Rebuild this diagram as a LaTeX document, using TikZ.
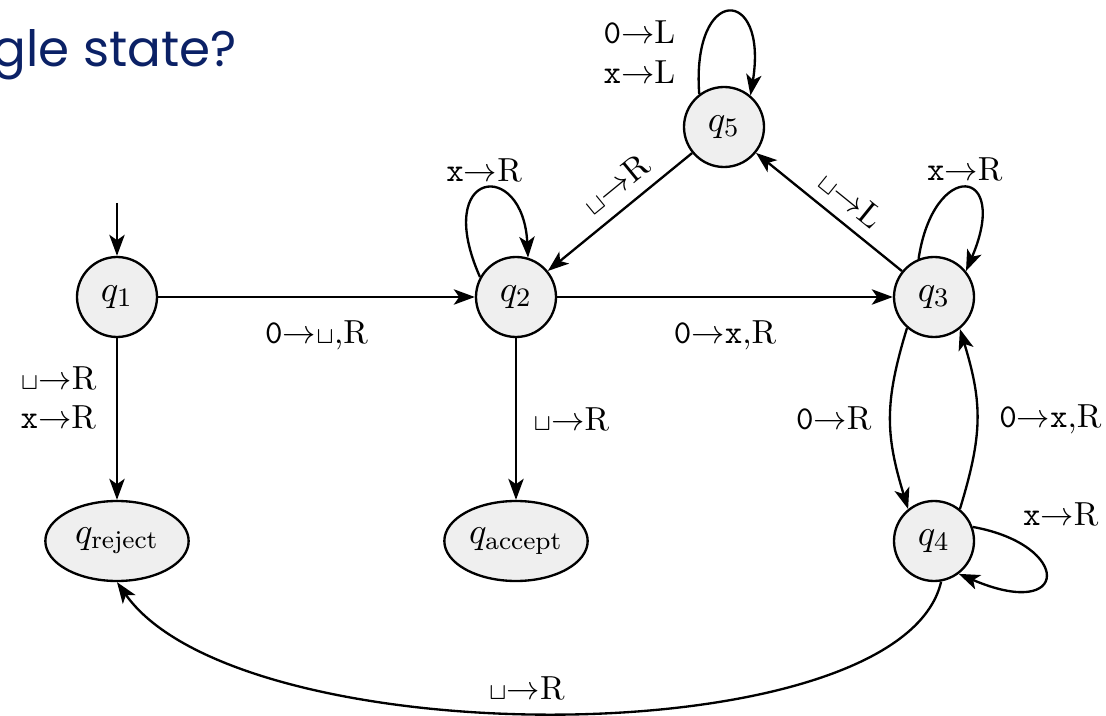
\documentclass[tikz,border=0pt]{standalone}
\usepackage{amsmath,amssymb}
\usepackage{fontspec}
\newfontfamily\titlefont{Poppins}
\usepackage{tikz}
\usetikzlibrary{arrows.meta,positioning,shapes.geometric}
\definecolor{statefill}{HTML}{EFEFEF}
\definecolor{titleblue}{HTML}{0B2166}
\newcommand{\blank}{\ensuremath{\scriptstyle\sqcup}}
\newcommand{\sym}[1]{\texttt{#1}}

\begin{document}
\begin{tikzpicture}[x=0.3pt, y=0.3pt, on grid, st/.style={circle,draw,line width=0.7pt,fill=statefill,minimum size=24pt,inner sep=0pt,font=\fontsize{11}{13}\selectfont}, hs/.style={ellipse,draw,line width=0.7pt,fill=statefill,minimum width=43pt,minimum height=24pt,inner sep=0pt,font=\fontsize{11}{13}\selectfont}, a/.style={-{Stealth[length=6.3pt,width=4.6pt,inset=1.6pt]},line width=0.7pt}]
\useasboundingbox (-117,297) rectangle (989,-418);
\node[font=\titlefont\fontsize{15}{18}\selectfont, text=titleblue, anchor=base west, inner sep=0pt] (title) at (-125,230) {gle state?};
% states
\node[st] (q1) at (0,0) {$q_1$};
\node[st,right=119.7pt of q1] (q2) {$q_2$};
\node[st,right=125.4pt of q2] (q3) {$q_3$};
\node[st,above right=51pt and 62.4pt of q2] (q5) {$q_5$};
\node[st,below=73.2pt of q3] (q4) {$q_4$};
\node[hs,below=73.2pt of q1] (qrej) {$q_{\mathrm{reject}}$};
\node[hs,below=73.2pt of q2] (qacc) {$q_{\mathrm{accept}}$};
\coordinate[above=28.2pt of q1] (start);
% transitions
\draw[a] (start) -- (q1);
\draw[a] (q1) -- node[below=3.4pt] {\sym{0}$\rightarrow$\blank,R} (q2);
\draw[a] (q2) -- node[below=3.4pt] {\sym{0}$\rightarrow$\sym{x},R} (q3);
\draw[a] (q1) -- node[left=2.5pt,pos=0.37,align=left] {\blank$\rightarrow$R\\\sym{x}$\rightarrow$R} (qrej);
\draw[a] (q2) -- node[right=1.5pt] {\blank$\rightarrow$R} (qacc);
\draw[a] (q5) -- node[sloped,above,pos=0.42] {\blank$\rightarrow$R} (q2);
\draw[a] (q3) -- node[sloped,above,pos=0.45] {\blank$\rightarrow$L} (q5);
\draw[a] (q3.-131) .. controls +(-107:78) and +(107:78) .. node[left=2pt] {\sym{0}$\rightarrow$R} (q4.129);
\draw[a] (q4.51) .. controls +(73:78) and +(-73:78) .. node[right=3pt] {\sym{0}$\rightarrow$\sym{x},R} (q3.-51);
\draw[a] (q4.-80) .. controls +(-40,-175) and +(123,-175) .. node[above,pos=0.53] {\blank$\rightarrow$R} (qrej.south);
% loops
\draw[a] (q2.151) .. controls +(-48,108) and +(-5,100) .. node[above=-1.5pt] {\sym{x}$\rightarrow$R} (q2.73);
\draw[a] (q3.112) .. controls +(15,100) and +(45,105) .. node[above=-1.5pt] {\sym{x}$\rightarrow$R} (q3.39);
\draw[a] (q5.127) .. controls +(-8,110) and +(18,110) .. node[left=4pt,pos=0.15,align=left] {\sym{0}$\rightarrow$L\\\sym{x}$\rightarrow$L} (q5.50);
\draw[a] (q4.20) .. controls +(100,-18) and +(112,-48) .. node[above right=0pt,pos=0.15] {\sym{x}$\rightarrow$R} (q4.-53);
\end{tikzpicture}
\end{document}
